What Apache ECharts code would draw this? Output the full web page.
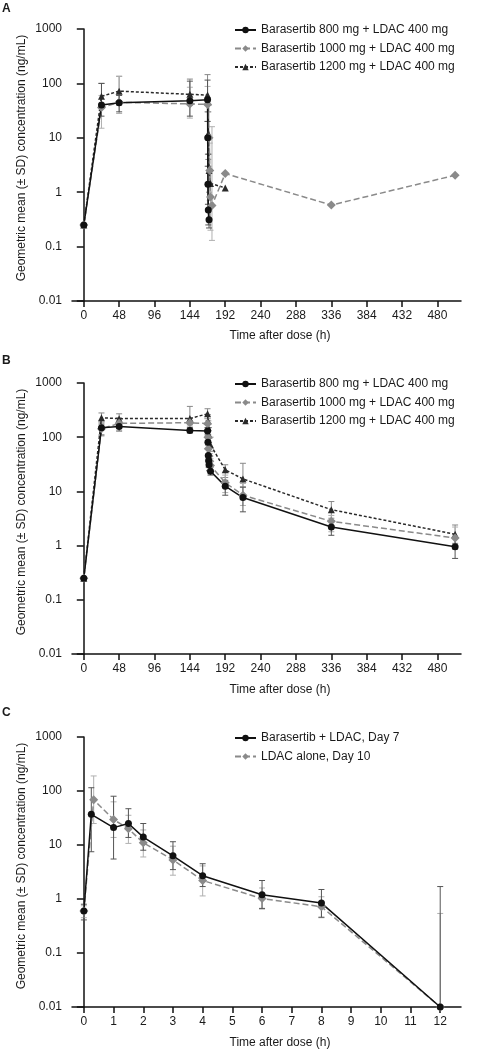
<!DOCTYPE html>
<html><head><meta charset="utf-8">
<script src="https://cdn.jsdelivr.net/npm/echarts@6/dist/echarts.min.js"></script>
<style>html,body{margin:0;padding:0;background:#fff}#c{width:477px;height:1050px}</style>
</head><body><div id="c"></div>
<script>
// ---------- Data ----------
const legendAB = ['Barasertib 800 mg + LDAC 400 mg','Barasertib 1000 mg + LDAC 400 mg','Barasertib 1200 mg + LDAC 400 mg'];
const legendC = ['Barasertib + LDAC, Day 7','LDAC alone, Day 10'];
const xTicksAB = [0,48,96,144,192,240,288,336,384,432,480];
const xTicksC = [0,1,2,3,4,5,6,7,8,9,10,11,12];
const yTickLabels = ['0.01','0.1','1','10','100','1000'];

// Panel A
const tA800 = [0,24,48,144,168,168.25,168.5,169,170];
const cA800 = [0.25,40,44,48,50,10,1.4,0.47,0.31];
const loA800 = [0.25,25,30,25,20,3,0.6,0.25,0.22];
const hiA800 = [0.25,100,60,110,115,40,5,1.5,0.5];
const tA1000 = [0,24,48,144,168,170,171,172,174,192,336,504];
const cA1000 = [0.25,36,45,42,41,10,2.5,0.82,0.57,2.2,0.58,2.05];
const loA1000 = [0.25,15,28,23,20,3,0.7,0.2,0.13,2.2,0.58,2.05];
const hiA1000 = [0.25,60,135,85,88,40,8,2.5,16,2.2,0.58,2.05];
const tA1200 = [0,24,48,144,168,169,170,172,192];
const cA1200 = [0.25,58,72,63,61,12,2.5,1.45,1.2];
const loA1200 = [0.25,35,40,40,30,4,1,0.8,1.2];
const hiA1200 = [0.25,100,135,120,145,30,5,2.5,1.2];

// Panel B
const tB800 = [0,24,48,144,168,168.5,169,169.5,170,172,192,216,336,504];
const cB800 = [0.25,150,157,133,130,81,46,37,31,23.5,12.5,7.7,2.2,0.95];
const loB800 = [0.25,110,130,120,110,60,35,28,24,20,8.5,4.2,1.55,0.58];
const hiB800 = [0.25,175,180,150,150,100,60,48,40,28,16,12,2.9,1.4];
const tB1000 = [0,24,48,144,168,168.5,169,170,171,172,192,216,336,504];
const cB1000 = [0.25,143,180,185,178,100,61,45,36,30,14.5,8.5,2.8,1.38];
const loB1000 = [0.25,105,145,160,140,70,45,32,26,22,9.5,5.5,1.8,0.85];
const hiB1000 = [0.25,190,230,220,220,130,85,60,50,40,20,14,3.6,2.2];
const tB1200 = [0,24,48,144,168,168.5,169,170,172,192,216,336,504];
const cB1200 = [0.25,229,220,222,270,200,150,110,72,25,17,4.6,1.62];
const loB1200 = [0.25,190,180,170,220,150,110,80,55,18,12,3.2,1.1];
const hiB1200 = [0.25,280,270,370,335,260,200,150,100,31,33,6.5,2.4];

// Panel C
const tC1 = [0,0.25,1,1.5,2,3,4,6,8,12];
const cC1 = [0.6,37,21,25,14,6.3,2.7,1.2,0.84,0.01];
const loC1 = [0.41,7.5,5.5,13.8,8,3.5,1.7,0.67,0.46,0.01];
const hiC1 = [0.8,115,80,47,25,11.5,4.5,2.2,1.5,1.7];
const tC2 = [0,0.33,1,1.5,2,3,4,6,8,12];
const cC2 = [0.6,69,29.6,20,11,5.3,2.2,1.02,0.72,0.01];
const loC2 = [0.45,25,13.8,10.7,6,2.76,1.14,0.65,0.45,0.01];
const hiC2 = [0.75,190,63,35.5,19,9.5,4.1,1.6,1.1,0.54];

// ---------- Styles ----------
const FONT = '"Liberation Sans", Arial, sans-serif';
const TXT = '#1a1a1a';
const grids = [
  {left:72, top:29, width:389, height:272},
  {left:72, top:383, width:389, height:271},
  {left:72, top:737, width:389, height:270}
];

function xAxis(gi, min, max, ticks){
  return {type:'value', gridIndex:gi, min:min, max:max,
    axisLine:{onZero:false, lineStyle:{color:'#111', width:1.5}},
    axisTick:{customValues:ticks, length:6, lineStyle:{color:'#111', width:1.5}},
    axisLabel:{customValues:ticks, color:TXT, fontFamily:FONT, fontSize:12, margin:9},
    splitLine:{show:false}};
}
function yAxis(gi){
  return {type:'log', logBase:10, gridIndex:gi, min:0.01, max:1000,
    axisLine:{show:true, lineStyle:{color:'#111', width:1.5}},
    axisTick:{show:true, length:7, lineStyle:{color:'#111', width:1.5}},
    axisLabel:{color:TXT, fontFamily:FONT, fontSize:12, margin:10,
      formatter:function(v){ const k=Math.round(Math.log10(v))+2; return yTickLabels[k]!==undefined?yTickLabels[k]:String(v);} },
    minorTick:{show:false}, splitLine:{show:false}};
}
function pairs(t,c){ return t.map((x,i)=>[x,c[i]]); }
function lineS(name, gi, t, c, sym, color, type, symColor){
  return {name:name, type:'line', xAxisIndex:gi, yAxisIndex:gi, data:pairs(t,c),
    symbol:sym, symbolSize: sym==='diamond'?9:7, showSymbol:true,
    itemStyle:{color:symColor||color}, lineStyle:{color:color, width:1.5, type:type},
    z:3, animation:false};
}
function errS(gi, t, lo, hi, color){
  return {type:'custom', name:'err', xAxisIndex:gi, yAxisIndex:gi, silent:true, z:1,
    data: t.map((x,i)=>[x, lo[i], hi[i]]),
    encode:{x:0, y:[1,2]},
    renderItem:function(params, api){
      const x=api.value(0), l=api.value(1), h=api.value(2);
      if (l===h) return null;
      const p1=api.coord([x,l]), p2=api.coord([x,h]);
      const w=3, st={stroke:color, lineWidth:1};
      return {type:'group', children:[
        {type:'line', shape:{x1:p1[0],y1:p1[1],x2:p2[0],y2:p2[1]}, style:st},
        {type:'line', shape:{x1:p1[0]-w,y1:p1[1],x2:p1[0]+w,y2:p1[1]}, style:st},
        {type:'line', shape:{x1:p2[0]-w,y1:p2[1],x2:p2[0]+w,y2:p2[1]}, style:st}
      ]};
    }, animation:false};
}
const C_BLK='#111', C_GRY='#8a8a8a', C_DRK='#2a2a2a';
const E_BLK='#555', E_GRY='#b0b0b0', E_DRK='#888';

const series = [
  errS(0,tA1200,loA1200,hiA1200,E_DRK), errS(0,tA1000,loA1000,hiA1000,E_GRY), errS(0,tA800,loA800,hiA800,E_BLK),
  lineS(legendAB[2],0,tA1200,cA1200,'triangle',C_DRK,[3,2]),
  lineS(legendAB[1],0,tA1000,cA1000,'diamond',C_GRY,[6,3]),
  lineS(legendAB[0],0,tA800,cA800,'circle',C_BLK,'solid'),
  errS(1,tB1200,loB1200,hiB1200,E_DRK), errS(1,tB1000,loB1000,hiB1000,E_GRY), errS(1,tB800,loB800,hiB800,E_BLK),
  lineS(legendAB[2],1,tB1200,cB1200,'triangle',C_DRK,[3,2]),
  lineS(legendAB[1],1,tB1000,cB1000,'diamond',C_GRY,[6,3]),
  lineS(legendAB[0],1,tB800,cB800,'circle',C_BLK,'solid'),
  errS(2,tC2,loC2,hiC2,E_GRY), errS(2,tC1,loC1,hiC1,E_BLK),
  lineS(legendC[1],2,tC2,cC2,'diamond',C_GRY,[6,3]),
  lineS(legendC[0],2,tC1,cC1,'circle',C_BLK,'solid')
];

function legend(top, names){
  return {top:top, left:229, orient:'vertical', data:names, itemWidth:21, itemHeight:8, itemGap:6.5,
    selectedMode:false, textStyle:{color:TXT, fontFamily:FONT, fontSize:12}};
}
const yTitle = 'Geometric mean (± SD) concentration (ng/mL)';
function yT(cy){ return {type:'text', x:22, y:cy, rotation:Math.PI/2, style:{text:yTitle, fill:TXT, font:'12px '+FONT, align:'center', verticalAlign:'middle'}}; }
function xT(cy){ return {type:'text', x:280, y:cy, style:{text:'Time after dose (h)', fill:TXT, font:'12px '+FONT, align:'center', verticalAlign:'middle'}}; }

const option = {
  animation:false,
  grid: grids,
  xAxis:[xAxis(0,-16,512,xTicksAB), xAxis(1,-16,512,xTicksAB), xAxis(2,-0.4,12.7,xTicksC)],
  yAxis:[yAxis(0), yAxis(1), yAxis(2)],
  legend:[legend(19, legendAB), legend(373, legendAB), legend(727, legendC)],
  series: series,
  graphic:[
    {type:'text', x:2, y:3, style:{text:'A', fill:TXT, font:'bold 12px '+FONT}},
    {type:'text', x:2, y:355, style:{text:'B', fill:TXT, font:'bold 12px '+FONT}},
    {type:'text', x:2, y:707, style:{text:'C', fill:TXT, font:'bold 12px '+FONT}},
    yT(158), yT(512), yT(866),
    xT(336), xT(690), xT(1043)
  ]
};
const chart = echarts.init(document.getElementById('c'), null, {renderer:'canvas'});
chart.setOption(option);
</script></body></html>
